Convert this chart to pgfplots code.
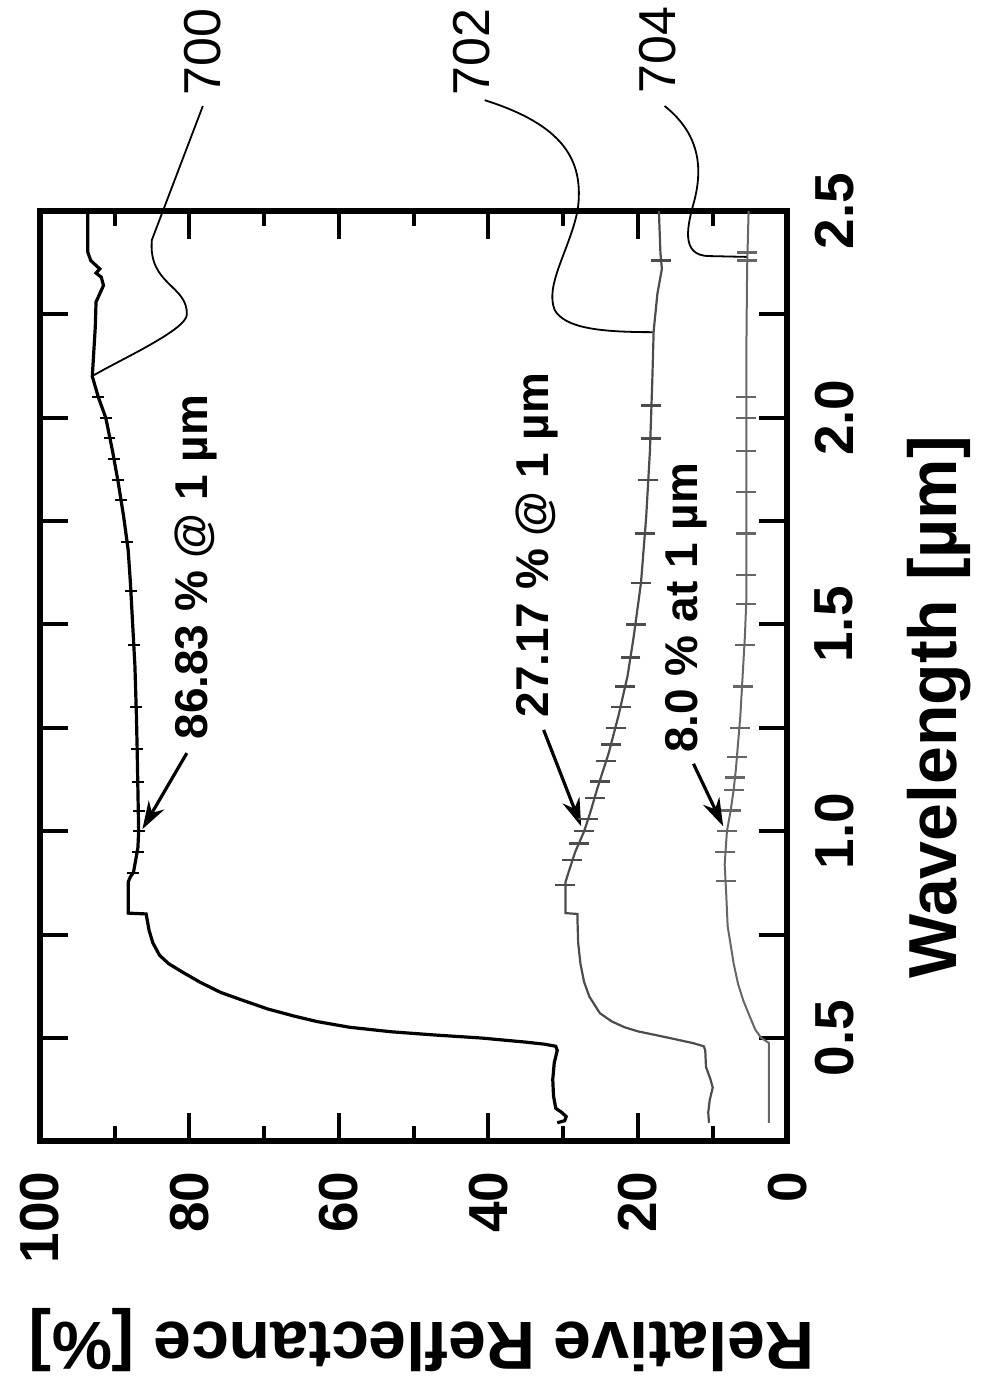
\documentclass[border=0pt]{standalone}
\usepackage{fontspec}
\setmainfont{Liberation Sans}
\usepackage{pgfplots}
\pgfplotsset{compat=1.18}
\usepackage{pgfplotstable}
\usetikzlibrary{arrows.meta}
\definecolor{cB}{gray}{0.30}
\definecolor{cC}{gray}{0.40}
\newcommand{\tickfont}{\bfseries\fontsize{27.5}{30}\selectfont}
\newcommand{\labfont}{\bfseries\fontsize{34}{36}\selectfont}
\newcommand{\annfont}{\bfseries\fontsize{23}{25}\selectfont}
\newcommand{\numfont}{\fontsize{26}{28}\selectfont}

\pgfplotstableread{
lam R
0.295 30.8
0.300 29.8
0.310 29.6
0.320 30.2
0.330 31.0
0.360 31.3
0.400 31.4
0.440 31.2
0.470 30.8
0.480 31.0
0.485 32.5
0.490 35.0
0.500 41.0
0.507 47.0
0.515 53.0
0.526 58.6
0.540 63.0
0.553 66.0
0.570 69.5
0.590 72.7
0.610 75.8
0.635 78.6
0.660 81.0
0.680 82.8
0.700 84.0
0.730 84.9
0.760 85.4
0.790 85.7
0.800 85.8
0.802 88.2
0.850 88.2
0.877 88.2
0.890 87.9
0.900 87.5
0.930 87.2
0.960 86.9
1.000 86.8
1.100 86.9
1.200 87.0
1.280 87.1
1.400 87.3
1.500 87.6
1.600 87.9
1.680 88.2
1.760 88.8
1.840 89.5
1.920 90.3
2.000 91.2
2.050 92.2
2.100 93.0
2.160 92.8
2.220 92.6
2.280 92.5
2.300 92.0
2.320 91.5
2.340 91.8
2.350 92.5
2.360 92.0
2.380 93.2
2.400 93.6
2.450 93.6
2.500 93.6
}\tabA

\pgfplotstableread{
lam R
0.295 10.5
0.320 10.6
0.350 10.4
0.380 10.0
0.400 10.3
0.430 10.9
0.470 11.0
0.480 11.2
0.487 12.5
0.497 15.0
0.507 17.6
0.516 20.0
0.526 21.8
0.540 23.5
0.560 25.1
0.600 26.5
0.635 27.2
0.680 27.7
0.730 28.0
0.790 28.1
0.800 28.1
0.802 29.7
0.877 29.7
0.900 29.3
0.950 28.4
1.000 27.2
1.050 26.3
1.100 25.5
1.190 23.9
1.280 22.6
1.375 21.4
1.467 20.6
1.560 19.9
1.600 19.6
1.760 18.9
1.920 18.4
2.080 18.1
2.210 17.9
2.300 17.4
2.360 16.8
2.400 17.0
2.500 17.2
}\tabB

\pgfplotstableread{
lam R
0.295 2.5
0.400 2.5
0.488 2.5
0.500 3.5
0.520 4.3
0.550 5.0
0.590 5.9
0.630 6.6
0.680 7.2
0.770 8.0
0.850 8.2
0.920 8.4
1.000 8.1
1.050 7.6
1.100 7.2
1.150 6.9
1.280 6.3
1.470 5.7
1.560 5.5
1.800 5.5
2.000 5.5
2.160 5.5
2.360 5.4
2.500 5.2
}\tabC

\pgfplotstableread{
lam R
0.90 87.5
0.95 86.9
1.00 86.8
1.05 86.8
1.12 86.9
1.20 87.0
1.30 87.1
1.45 87.4
1.58 87.8
1.70 88.3
1.80 89.1
1.85 89.6
1.90 90.1
1.95 90.7
2.00 91.2
2.05 92.2
}\mkA

\pgfplotstableread{
lam R
0.87 29.7
0.93 28.8
0.97 27.9
1.00 27.2
1.03 26.7
1.08 25.8
1.12 25.1
1.17 24.3
1.21 23.6
1.25 23.0
1.30 22.3
1.35 21.7
1.42 21.0
1.50 20.3
1.60 19.6
1.72 19.1
1.85 18.6
1.95 18.3
2.03 18.2
2.38 16.9
}\mkB

\pgfplotstableread{
lam R
0.88 8.2
0.95 8.3
1.00 8.1
1.05 7.6
1.10 7.2
1.13 7.0
1.18 6.8
1.25 6.4
1.35 6.0
1.45 5.7
1.55 5.5
1.62 5.5
1.72 5.5
1.82 5.5
1.92 5.5
2.00 5.5
2.05 5.5
2.38 5.4
2.40 5.4
}\mkC

\begin{document}
\begin{tikzpicture}
\begin{axis}[
  width=374pt, height=465.5pt, scale only axis,
  xmin=0, xmax=100, ymin=0.25, ymax=2.5,
  x dir=reverse,
  clip=false,
  axis line style={line width=3pt},
  xtick={0,20,40,60,80,100}, xticklabels={0,20,40,60,80,100},
  minor xtick={10,30,50,70,90},
  ytick={0.5,1.0,1.5,2.0,2.5}, yticklabels={0.5,1.0,1.5,2.0,2.5},
  extra y ticks={0.75,1.25,1.75,2.25}, extra y tick labels={},
  major tick length=14pt, minor tick length=7.5pt,
  tick style={line width=2pt, black},
  yticklabel pos=right,
  xticklabel style={font=\tickfont, rotate=90, anchor=east, inner sep=0pt},
  yticklabel style={font=\tickfont, rotate=90, anchor=north, inner sep=0pt},
  xticklabel shift=15pt, yticklabel shift=13.5pt,
]
\path (axis cs:105.35,3.0103) rectangle (axis cs:-26.07,-0.3368);

\addplot[black, line width=1.6pt, no marks] table[x=R,y=lam]{\tabA};
\addplot[cB, line width=1.1pt, no marks] table[x=R,y=lam]{\tabB};
\addplot[cC, line width=1pt, no marks] table[x=R,y=lam]{\tabC};

\addplot[black, only marks, mark=-, mark size=3pt, mark options={line width=1pt}] table[x=R,y=lam]{\mkA};
\addplot[cB, only marks, mark=-, mark size=5pt, mark options={line width=1.2pt}] table[x=R,y=lam]{\mkB};
\addplot[cC, only marks, mark=-, mark size=5pt, mark options={line width=1.2pt}] table[x=R,y=lam]{\mkC};

% axis labels
\node[rotate=180, font=\labfont] at (axis cs:48.9,-0.230) {Relative Reflectance [\%]};
\node[rotate=90, font=\labfont] at (axis cs:-20.3,1.30) {Wavelength [µm]};

% reference numerals
\node[rotate=90, font=\numfont] at (axis cs:78.2,2.885) {700};
\node[rotate=90, font=\numfont] at (axis cs:42.2,2.885) {702};
\node[rotate=90, font=\numfont] at (axis cs:17.4,2.889) {704};

\draw[line width=0.9pt] (axis cs:78.21,2.754) -- (axis cs:85.03,2.430)
  .. controls (axis cs:85.56,2.321) and (axis cs:80.21,2.321) .. (axis cs:80.35,2.249)
  .. controls (axis cs:80.48,2.212) and (axis cs:89.30,2.140) .. (axis cs:92.78,2.103);
\draw[line width=0.9pt] (axis cs:40.5,2.768)
  .. controls (axis cs:30.0,2.708) and (axis cs:27.14,2.623) .. (axis cs:28.07,2.502)
  .. controls (axis cs:29.14,2.406) and (axis cs:32.49,2.321) .. (axis cs:31.15,2.261)
  .. controls (axis cs:29.81,2.217) and (axis cs:25.13,2.207) .. (axis cs:18.05,2.207);
\draw[line width=0.9pt] (axis cs:16.44,2.754)
  .. controls (axis cs:12.43,2.696) and (axis cs:11.10,2.623) .. (axis cs:12.43,2.527)
  .. controls (axis cs:13.37,2.466) and (axis cs:14.44,2.391) .. (axis cs:10.43,2.391)
  -- (axis cs:5.48,2.389);

% annotations
\node[rotate=90, anchor=west, inner sep=0pt, font=\annfont] at (axis cs:79.1,1.221) {86.83 \% @ 1 µm};
\node[rotate=90, anchor=west, inner sep=0pt, font=\annfont] at (axis cs:33.56,1.274) {27.17 \% @ 1 µm};
\node[rotate=90, anchor=west, inner sep=0pt, font=\annfont] at (axis cs:13.6,1.189) {8.0 \% at 1 µm};

\draw[-{Stealth[length=14pt,width=9pt]}, line width=1.6pt] (axis cs:80.35,1.189) -- (axis cs:86.3,1.005);
\draw[-{Stealth[length=14pt,width=9pt]}, line width=1.6pt] (axis cs:32.62,1.245) -- (axis cs:27.6,1.012);
\draw[-{Stealth[length=14pt,width=9pt]}, line width=1.6pt] (axis cs:12.57,1.163) -- (axis cs:8.6,1.012);
\end{axis}
\end{tikzpicture}
\end{document}
